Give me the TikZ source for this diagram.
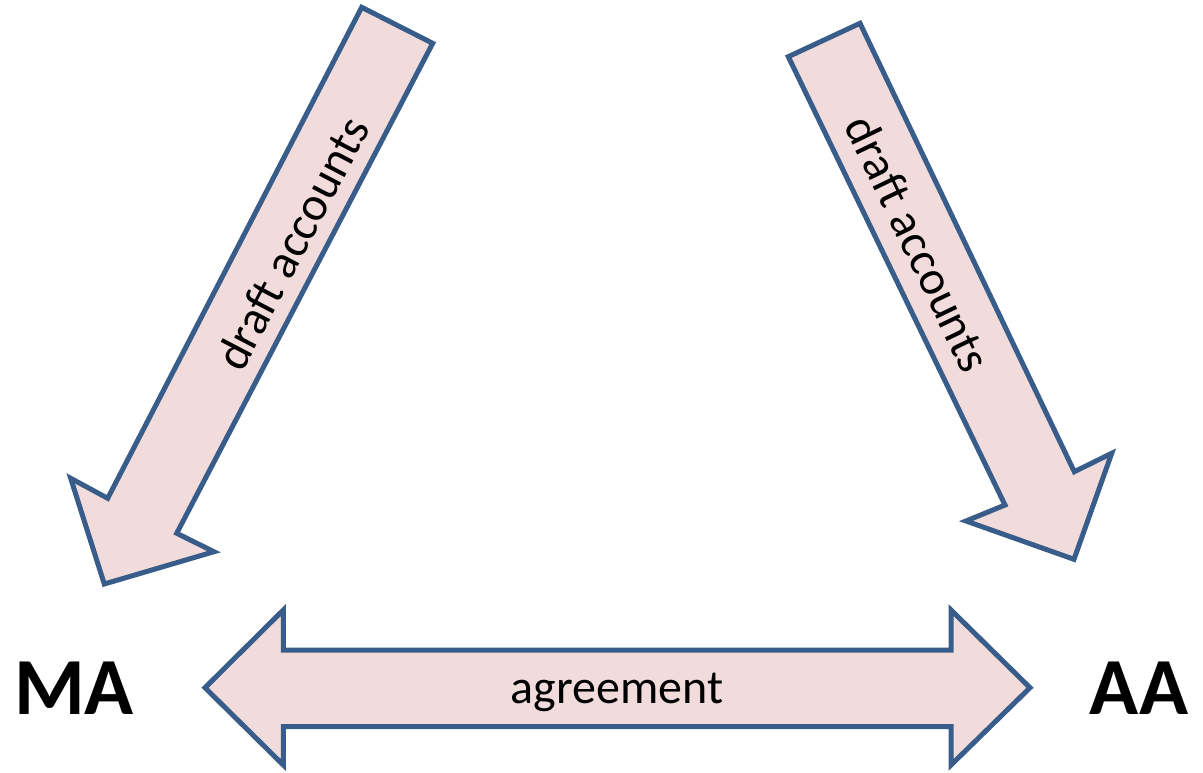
\documentclass[tikz,border=0pt]{standalone}
\usepackage{fontspec}
\setmainfont{Carlito}
\usetikzlibrary{positioning}
\definecolor{arrowfill}{HTML}{F2DCDB}
\definecolor{arrowline}{HTML}{385D8A}

\begin{document}
\begin{tikzpicture}[x=1pt, y=-1pt]
	\tikzset{blockarrow/.style={draw=arrowline, fill=arrowfill, line width=5pt, line join=miter},
		party/.style={font=\fontsize{81}{81}\selectfont\bfseries, inner sep=0pt},
		flowtext/.style={font=\fontsize{48}{48}\selectfont, inner sep=0pt}}
	\useasboundingbox (0,0) rectangle (1203,773);

	% block arrows
	\draw[blockarrow] (361.7,7.3) -- (432.7,43.3) -- (176.7,533.3) -- (214,551.7)
		-- (104.3,584) -- (70.7,478.3) -- (107.7,498.3) -- cycle;
	\draw[blockarrow] (788.3,56.7) -- (860,23.3) -- (1074.3,471.7) -- (1111.7,453.3)
		-- (1074,559.3) -- (966,521) -- (1005,505) -- cycle;
	\draw[blockarrow] (205,687.7) -- (283.3,610) -- (283.3,650) -- (951,650) -- (951,610)
		-- (1030,687.7) -- (951,765) -- (951,726.7) -- (283.3,726.7) -- (283.3,765) -- cycle;

	% parties
	\node[party] (MA) at (74,688) {MA};
	\node[party] (AA) at (1139,688) {AA};

	% labels
	\node[flowtext, rotate=62.3] (draftMA) at (292,243) {draft accounts};
	\node[flowtext, rotate=-64.3] (draftAA) at (918.5,243.5) {draft accounts};
	\node[flowtext, anchor=base] (agree) at (617,703) {agreement};
\end{tikzpicture}
\end{document}
